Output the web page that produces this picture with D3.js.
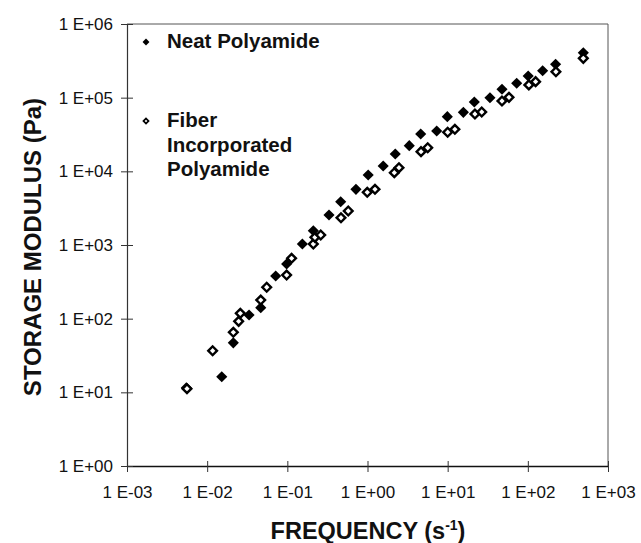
<!DOCTYPE html>
<html><head><meta charset="utf-8">
<script src="https://cdn.jsdelivr.net/npm/d3@7"></script>
<style>
html,body{margin:0;padding:0;background:#fff;}
svg{display:block;font-family:"Liberation Sans",Arial,Helvetica,sans-serif;}
</style></head>
<body><svg id="c" width="641" height="543"></svg>
<script>
// Data (frequency in s^-1, storage modulus in Pa)
const neatFreq = [0.0055,0.0152,0.0212,0.0333,0.0466,0.0716,0.098,0.154,0.211,0.331,0.463,0.718,1.02,1.57,2.22,3.32,4.61,7.3,9.9,15.7,21.5,33.7,47.6,72.6,101,153,222,492];
const neatG    = [11.5,16.3,47,112,141,379,552,1031,1563,2553,3870,5700,8910,11800,17200,22300,32100,35300,55200,63200,87300,99800,130000,157000,197000,232000,284000,407000];
const fiberFreq = [0.0056,0.0117,0.0212,0.0247,0.0259,0.0466,0.0553,0.098,0.113,0.211,0.221,0.261,0.467,0.575,0.993,1.24,2.16,2.47,4.65,5.64,10,12.3,21.9,26.6,47.6,58.2,103,125,224,492];
const fiberG    = [11.2,36.7,65.3,92,118,179,267,391,660,1031,1271,1367,2345,2893,5190,5700,9580,11200,18500,20900,33900,37200,60000,63900,90100,101000,149000,165000,225000,342000];
const xTickValues = [1e-3,1e-2,1e-1,1e0,1e1,1e2,1e3];
const xTickLabels = ["1 E-03","1 E-02","1 E-01","1 E+00","1 E+01","1 E+02","1 E+03"];
const yTickValues = [1e0,1e1,1e2,1e3,1e4,1e5,1e6];
const yTickLabels = ["1 E+00","1 E+01","1 E+02","1 E+03","1 E+04","1 E+05","1 E+06"];
const seriesNames = ["Neat Polyamide","Fiber Incorporated Polyamide"];

const svg = d3.select("#c");
const L=127, R=608, T=24, B=466;
const x = d3.scaleLog().domain([1e-3,1e3]).range([L,R]);
const y = d3.scaleLog().domain([1,1e6]).range([B,T]);

// frame (top & right)
svg.append("path").attr("d",`M${L},${T}H${R}V${B}`).attr("fill","none").attr("stroke","#555").attr("stroke-width",1);

// axes
const xAxis = d3.axisBottom(x).tickValues(xTickValues).tickFormat((d,i)=>xTickLabels[i]).tickSizeInner(6).tickSizeOuter(0).tickPadding(14);
const gx = svg.append("g").attr("transform",`translate(0,${B})`).call(xAxis);
gx.selectAll(".tick line").attr("y1",-5).attr("y2",6).attr("stroke","#333");
gx.select(".domain").attr("stroke","#111").attr("stroke-width",1.3);
gx.selectAll("text").attr("font-size","17px").attr("fill","#111").attr("dy","0.71em").attr("y",20);

const yAxis = d3.axisLeft(y).tickValues(yTickValues).tickFormat((d,i)=>yTickLabels[i]).tickSizeInner(6).tickSizeOuter(0).tickPadding(9);
const gy = svg.append("g").attr("transform",`translate(${L},0)`).call(yAxis);
gy.selectAll(".tick line").attr("x1",-6).attr("x2",6).attr("stroke","#333");
gy.select(".domain").attr("stroke","#333").attr("stroke-width",1.2);
gy.selectAll("text").attr("font-size","17px").attr("fill","#111").attr("x",-14);

// markers
const sq = d3.symbol().type(d3.symbolSquare);
const neat = neatFreq.map((f,i)=>({f,g:neatG[i]}));
const fiber = fiberFreq.map((f,i)=>({f,g:fiberG[i]}));
svg.append("g").selectAll("path").data(neat).join("path")
  .attr("d",sq.size(62)())
  .attr("transform",d=>`translate(${x(d.f)},${y(d.g)}) rotate(45)`)
  .attr("fill","#000");
svg.append("g").selectAll("path").data(fiber).join("path")
  .attr("d",sq.size(38)())
  .attr("transform",d=>`translate(${x(d.f)},${y(d.g)}) rotate(45)`)
  .attr("fill","#fff").attr("stroke","#000").attr("stroke-width",2.4);

// legend
const lg = svg.append("g");
lg.append("path").attr("d",sq.size(24)()).attr("transform","translate(146,42) rotate(45)").attr("fill","#000");
lg.append("text").attr("x",167).attr("y",48).attr("font-size","20.5px").attr("font-weight","bold").attr("fill","#111").text(seriesNames[0]);
lg.append("path").attr("d",sq.size(13)()).attr("transform","translate(146,121) rotate(45)").attr("fill","#fff").attr("stroke","#000").attr("stroke-width",1.7);
const lt = lg.append("text").attr("x",167).attr("y",127).attr("font-size","20.5px").attr("font-weight","bold").attr("fill","#111");
["Fiber","Incorporated","Polyamide"].forEach((w,i)=>lt.append("tspan").attr("x",167).attr("dy",i?24.5:0).text(w));

// axis titles
svg.append("text").attr("transform","translate(41,247) rotate(-90)").attr("text-anchor","middle")
  .attr("font-size","24px").attr("font-weight","bold").attr("fill","#111").text("STORAGE MODULUS (Pa)");
const xt = svg.append("text").attr("x",368).attr("y",539).attr("text-anchor","middle")
  .attr("font-size","23.5px").attr("font-weight","bold").attr("fill","#111");
xt.append("tspan").text("FREQUENCY (s");
xt.append("tspan").attr("font-size","14px").attr("dy","-9").text("-1");
xt.append("tspan").attr("dy","9").text(")");
</script></body></html>
